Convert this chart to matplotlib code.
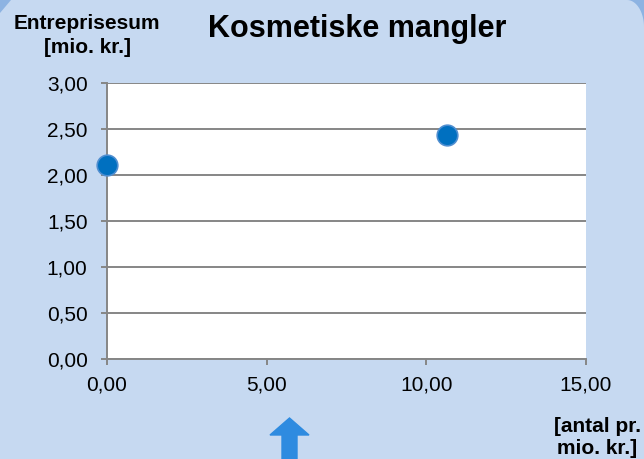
import numpy as np
import matplotlib
matplotlib.use('Agg')
import matplotlib.pyplot as plt
from matplotlib.patches import Polygon, FancyArrow
from matplotlib.ticker import FuncFormatter

plt.rcParams['font.family'] = ['Liberation Sans', 'DejaVu Sans']

# data
antal = [0.0, 10.65]
sum_mio = [2.11, 2.44]
x_ticks = [0, 5, 10, 15]
y_ticks = [0, 0.5, 1.0, 1.5, 2.0, 2.5, 3.0]

W, H = 644, 459
fig = plt.figure(figsize=(W / 100, H / 100), dpi=100)
fig.patch.set_facecolor('#8db3e2')


def px(x, y):
    # pixel coords (top-left origin) -> figure fraction
    return (x / W, 1 - y / H)


# light panel with cut top corners
t = np.linspace(0, np.pi / 2, 30)
arc = [px(627 + 17 * np.sin(a), 27 - 27 * np.cos(a)) for a in t]
pts = [px(0, 13), px(11, 0)] + arc + [px(W, H), px(0, H)]
fig.patches.append(Polygon(pts, closed=True, transform=fig.transFigure,
                           facecolor='#c6d9f1', edgecolor='none', zorder=-10))

left, right, top, bottom = 107, 586, 83, 359
ax = fig.add_axes([left / W, 1 - bottom / H, (right - left) / W, (bottom - top) / H])
ax.set_facecolor('white')
ax.scatter(antal, sum_mio, s=220, color='#0070c0', edgecolors='#4f8ed0',
           linewidths=1.2, zorder=5, clip_on=False)

ax.set_xlim(0, 15)
ax.set_ylim(0, 3)
ax.set_xticks(x_ticks)
ax.set_yticks(y_ticks)
fmt = FuncFormatter(lambda v, p: f'{v:.2f}'.replace('.', ','))
ax.xaxis.set_major_formatter(fmt)
ax.yaxis.set_major_formatter(fmt)
ax.grid(axis='y', color='#868686', linewidth=1.4)
ax.set_axisbelow(True)
for s in ['top', 'right']:
    ax.spines[s].set_visible(False)
for s in ['left', 'bottom']:
    ax.spines[s].set_color('#868686')
    ax.spines[s].set_linewidth(1.4)
ax.tick_params(direction='out', length=4, width=1.4, color='#868686',
               labelsize=15)
ax.tick_params(axis='y', pad=10)
ax.tick_params(axis='x', pad=8)

fig.text(*px(357, 37), 'Kosmetiske mangler', fontsize=22,
         fontweight='bold', ha='center', va='baseline')
fig.text(*px(87, 29), 'Entreprisesum', fontsize=15,
         fontweight='bold', ha='center', va='baseline')
fig.text(*px(88, 53), '[mio. kr.]', fontsize=15,
         fontweight='bold', ha='center', va='baseline')
fig.text(*px(598, 432), '[antal pr.', fontsize=15,
         fontweight='bold', ha='center', va='baseline')
fig.text(*px(597, 454), 'mio. kr.]', fontsize=15,
         fontweight='bold', ha='center', va='baseline')

arrow = FancyArrow(289.5 / W, 0, 0, (H - 418) / H, width=15 / W,
                   head_width=39 / W, head_length=17 / H,
                   length_includes_head=True, transform=fig.transFigure,
                   color='#2e8be0')
fig.patches.append(arrow)

fig.savefig('out.png', dpi=100, facecolor=fig.get_facecolor())
